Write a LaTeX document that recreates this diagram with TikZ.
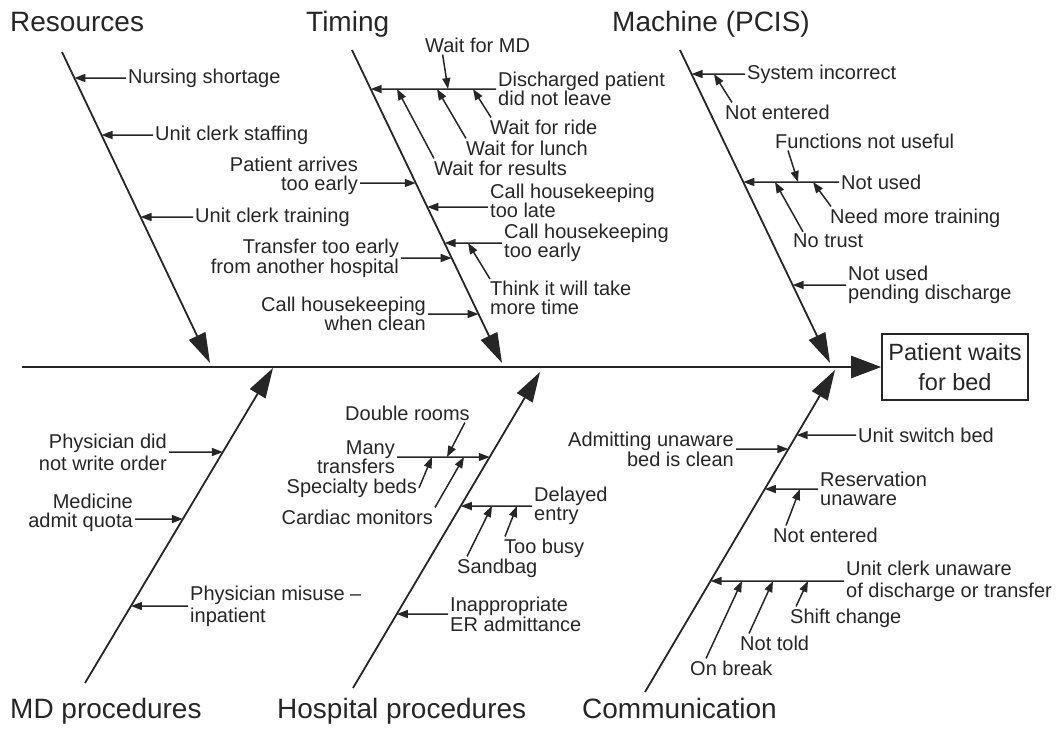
\documentclass[tikz,border=0pt]{standalone}
\usepackage{fontspec}
\setmainfont{Liberation Sans}
\usetikzlibrary{arrows.meta}
\usetikzlibrary{calc}
\definecolor{ink}{gray}{0.15}
\newcommand{\lblfont}[1]{\fontsize{20}{#1}\selectfont}
\tikzset{
    bone/.style={line width=1.8pt, draw=ink, -{Triangle[length=30pt,width=18pt]}},
    spine/.style={line width=2.4pt, draw=ink, -{Triangle[length=30pt,width=22pt]}},
    cause/.style={line width=1.5pt, draw=ink, -{Triangle[length=11pt,width=8pt]}},
    lbl/.style={inner sep=2pt, text=ink, font=\lblfont{#1}},
    lbl/.default=19,
    group/.style={inner sep=0pt, text=ink, font=\fontsize{28}{32}\selectfont},
}

\begin{document}
\begin{tikzpicture}[x=1pt,y=-1pt]
    \useasboundingbox (0,0) rectangle (1058,729);

    \coordinate (r1) at (62,52);   \coordinate (r2) at (210,363);
    \coordinate (t1) at (352,50);  \coordinate (t2) at (502,363);
    \coordinate (m1) at (680,50);  \coordinate (m2) at (830,363);
    \coordinate (d1) at (85,683);  \coordinate (d2) at (273,368);
    \coordinate (h1) at (353,688); \coordinate (h2) at (540,372);
    \coordinate (c1) at (645,692); \coordinate (c2) at (835,370);
    \coordinate (s0) at (22,367);

    \node[draw=ink, line width=1.6pt, minimum width=146pt, minimum height=66pt,
        align=center, text=ink, font=\fontsize{23.5}{30}\selectfont] (eff) at (955,367)
        {Patient waits\\for bed};
    \draw[spine] (s0) -- (eff);

    \draw[bone] (r1) -- (r2);
    \draw[bone] (t1) -- (t2);
    \draw[bone] (m1) -- (m2);
    \draw[bone] (d1) -- (d2);
    \draw[bone] (h1) -- (h2);
    \draw[bone] (c1) -- (c2);

    \node[group, anchor=base west] (res) at (10,31) {Resources};
    \node[group, anchor=base west] (tim) at (306,31) {Timing};
    \node[group, anchor=base west] (mac) at (612,31) {Machine (PCIS)};
    \node[group, anchor=base west] (mdp) at (10,718) {MD procedures};
    \node[group, anchor=base west] (hop) at (277,718) {Hospital procedures};
    \node[group, anchor=base west] (com) at (582,718) {Communication};

    % Resources
    \node[lbl, anchor=west] (ns) at (126,78) {Nursing shortage};
    \node[lbl, anchor=west] (ucs) at (153,135) {Unit clerk staffing};
    \node[lbl, anchor=west] (uct) at (193,217) {Unit clerk training};
    \draw[cause] (ns.west) -- (intersection of ns.west--ns.east and r1--r2);
    \draw[cause] (ucs.west) -- (intersection of ucs.west--ucs.east and r1--r2);
    \draw[cause] (uct.west) -- (intersection of uct.west--uct.east and r1--r2);

    % Timing
    \node[lbl, anchor=west, align=left] (dp) at (496,89) {Discharged patient\\did not leave};
    \node[lbl, anchor=west] (wmd) at (423,45) {Wait for MD};
    \node[lbl, anchor=west] (wfr) at (488,127) {Wait for ride};
    \node[lbl, anchor=west] (wfl) at (464,148) {Wait for lunch};
    \node[lbl, anchor=west] (wfs) at (432,168) {Wait for results};
    \node[lbl, anchor=east, align=right] (pae) at (360,176) {Patient arrives\\too early};
    \node[lbl, anchor=west, align=left] (chl) at (488,201) {Call housekeeping\\too late};
    \node[lbl, anchor=west, align=left] (che) at (502,243) {Call housekeeping\\too early};
    \node[lbl=20, anchor=east, align=right] (tte) at (401,258) {Transfer too early\\from another hospital};
    \node[lbl, anchor=west, align=left] (tit) at (488,298) {Think it will take\\more time};
    \node[lbl, anchor=east, align=right] (chw) at (428,314) {Call housekeeping\\when clean};
    \coordinate (pa0) at ([yshift=-7]pae.east);
    \coordinate (pa1) at ([yshift=-7]pae.west);
    \coordinate (cl0) at ([yshift=-6]chl.west);
    \coordinate (cl1) at ([yshift=-6]chl.east);
    \draw[cause] (dp.west) -- (intersection of dp.west--dp.east and t1--t2);
    \draw[cause] ([xshift=-35]wmd.south) -- (448,0 |- dp);
    \draw[cause] ([xshift=3]wfr.north west) -- (473,0 |- dp);
    \draw[cause] ([xshift=2]wfl.north west) -- (437,0 |- dp);
    \draw[cause] ([xshift=2]wfs.north west) -- (397,0 |- dp);
    \draw[cause] (pa0) -- (intersection of pa0--pa1 and t1--t2);
    \draw[cause] (cl0) -- (intersection of cl0--cl1 and t1--t2);
    \draw[cause] (che.west) -- (intersection of che.west--che.east and t1--t2);
    \draw[cause] ([xshift=2]tit.north west) -- (468,0 |- che);
    \draw[cause] (tte.east) -- (intersection of tte.west--tte.east and t1--t2);
    \draw[cause] (chw.east) -- (intersection of chw.west--chw.east and t1--t2);

    % Machine (PCIS)
    \node[lbl, anchor=west] (si) at (745,74) {System incorrect};
    \node[lbl, anchor=west] (ne1) at (723,112) {Not entered};
    \node[lbl, anchor=west] (fnu) at (773,141) {Functions not useful};
    \node[lbl, anchor=west] (nu) at (839,182) {Not used};
    \node[lbl, anchor=west] (nmt) at (828,218) {Need more training};
    \node[lbl, anchor=west] (nt) at (791,241) {No trust};
    \node[lbl, anchor=west, align=left] (nup) at (846,285) {Not used\\pending discharge};
    \draw[cause] (si.west) -- (intersection of si.west--si.east and m1--m2);
    \draw[cause] ([xshift=9]ne1.north west) -- (714,0 |- si);
    \draw[cause] (nu.west) -- (intersection of nu.west--nu.east and m1--m2);
    \draw[cause] ([xshift=15]fnu.south west) -- (798,0 |- nu);
    \draw[cause] ([xshift=12]nt.north west) -- (775,0 |- nu);
    \draw[cause] ([xshift=3]nmt.north west) -- (813,0 |- nu);
    \draw[cause] (nup.west) -- (intersection of nup.west--nup.east and m1--m2);

    % MD procedures
    \node[lbl=22, anchor=east, align=right] (pdw) at (169,452) {Physician did\\not write order};
    \node[lbl, anchor=east, align=right] (maq) at (135,513) {Medicine\\admit quota};
    \node[lbl=22, anchor=west, align=left] (pmi) at (188,606) {Physician misuse –\\inpatient};
    \coordinate (mq0) at ([yshift=-6]maq.east);
    \coordinate (mq1) at ([yshift=-6]maq.west);
    \draw[cause] (pdw.east) -- (intersection of pdw.west--pdw.east and d1--d2);
    \draw[cause] (mq0) -- (intersection of mq0--mq1 and d1--d2);
    \draw[cause] (pmi.west) -- (intersection of pmi.west--pmi.east and d1--d2);

    % Hospital procedures
    \node[lbl, anchor=west] (dr) at (343,413) {Double rooms};
    \node[lbl, anchor=east, align=right] (mt) at (397,457) {Many\\transfers};
    \node[lbl, anchor=east] (sb) at (419,488) {Specialty beds};
    \node[lbl, anchor=east] (cm) at (435,517) {Cardiac monitors};
    \node[lbl, anchor=west, align=left] (de) at (532,506) {Delayed\\entry};
    \node[lbl, anchor=west] (tb) at (502,548) {Too busy};
    \node[lbl, anchor=west] (sbg) at (455,568) {Sandbag};
    \node[lbl=20, anchor=west, align=left] (iea) at (448,614) {Inappropriate\\ER admittance};
    \draw[cause] (mt.east) -- (intersection of mt.west--mt.east and h1--h2);
    \draw[cause] ([xshift=-7]dr.south east) -- (447,0 |- mt);
    \draw[cause] (sb.east) -- (432,0 |- mt);
    \draw[cause] (cm.north east) -- (464,0 |- mt);
    \draw[cause] (de.west) -- (intersection of de.west--de.east and h1--h2);
    \draw[cause] ([xshift=12]sbg.north west) -- (492,0 |- de);
    \draw[cause] ([xshift=3]tb.north west) -- (517,0 |- de);
    \draw[cause] (iea.west) -- (intersection of iea.west--iea.east and h1--h2);

    % Communication
    \node[lbl, anchor=west] (usb) at (856,435) {Unit switch bed};
    \node[lbl=20, anchor=east, align=right] (aub) at (736,449) {Admitting unaware\\bed is clean};
    \node[lbl, anchor=west, align=left] (ru) at (818,489) {Reservation\\unaware};
    \node[lbl, anchor=west] (ne2) at (771,535) {Not entered};
    \node[lbl=22, anchor=west, align=left] (ucu) at (844,581) {Unit clerk unaware\\of discharge or transfer};
    \node[lbl, anchor=west] (sc) at (788,618) {Shift change};
    \node[lbl, anchor=west] (ntd) at (738,643) {Not told};
    \node[lbl, anchor=west] (ob) at (688,668) {On break};
    \draw[cause] (usb.west) -- (intersection of usb.west--usb.east and c1--c2);
    \draw[cause] (aub.east) -- (intersection of aub.west--aub.east and c1--c2);
    \draw[cause] (ru.west) -- (intersection of ru.west--ru.east and c1--c2);
    \draw[cause] ([xshift=15]ne2.north west) -- (800,0 |- ru);
    \draw[cause] (ucu.west) -- (intersection of ucu.west--ucu.east and c1--c2);
    \draw[cause] ([xshift=18]ob.north west) -- (742,0 |- ucu);
    \draw[cause] ([xshift=11]ntd.north west) -- (773,0 |- ucu);
    \draw[cause] ([xshift=8]sc.north west) -- (808,0 |- ucu);
\end{tikzpicture}
\end{document}
